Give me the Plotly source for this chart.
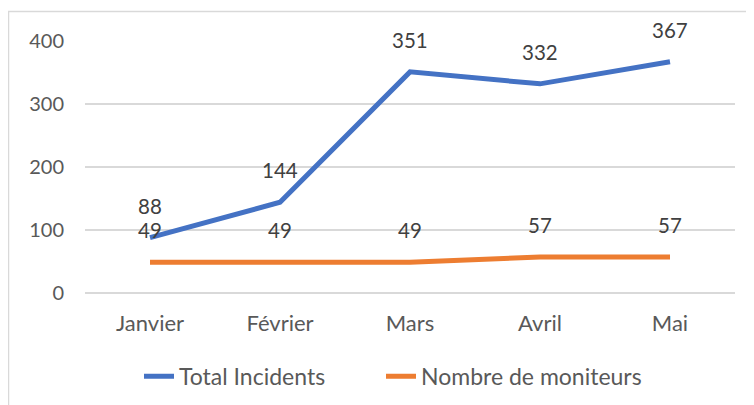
import plotly.graph_objects as go

months = ["Janvier", "Février", "Mars", "Avril", "Mai"]
total_incidents = [88, 144, 351, 332, 367]
nombre_moniteurs = [49, 49, 49, 57, 57]
y_ticks = [0, 100, 200, 300, 400]

BLUE = "#4472C4"
ORANGE = "#ED7D31"
FONT = "Lato"

fig = go.Figure()
fig.add_trace(go.Scatter(x=months, y=total_incidents, mode="lines", name="Total Incidents",
                         line=dict(color=BLUE, width=5), legend="legend"))
fig.add_trace(go.Scatter(x=months, y=nombre_moniteurs, mode="lines", name="Nombre de moniteurs",
                         line=dict(color=ORANGE, width=5), legend="legend2"))

annotations = []
for series in (total_incidents, nombre_moniteurs):
    for m, v in zip(months, series):
        annotations.append(dict(x=m, y=v, text=str(v), showarrow=False, yshift=32,
                                yanchor="middle", font=dict(family=FONT, size=20.5, color="#404040")))

legend_font = dict(family=FONT, size=23, color="#595959")

fig.update_layout(
    width=746, height=397,
    margin=dict(l=77, r=19, t=33, b=112, autoexpand=False),
    paper_bgcolor="white", plot_bgcolor="white",
    font=dict(family=FONT, size=20, color="#595959"),
    showlegend=True,
    legend=dict(orientation="h", xref="container", yref="container", x=0.1756, xanchor="left",
                y=0.0725, yanchor="middle", font=legend_font, bgcolor="rgba(0,0,0,0)"),
    legend2=dict(orientation="h", xref="container", yref="container", x=0.500, xanchor="left",
                 y=0.0725, yanchor="middle", font=legend_font, bgcolor="rgba(0,0,0,0)"),
    xaxis=dict(showgrid=False, showline=False, ticks="", ticklabelstandoff=15,
               range=[-0.5, 4.5], tickfont=dict(size=22), automargin=False),
    yaxis=dict(range=[0, 400], tickvals=y_ticks, showgrid=True, gridcolor="#D9D9D9",
               gridwidth=1.5, zeroline=True, zerolinecolor="#D9D9D9", zerolinewidth=1.5,
               showline=False, ticks="", ticklabelstandoff=20, automargin=False),
    annotations=annotations,
    shapes=[dict(type="rect", xref="paper", yref="paper", x0=-0.1177, y0=-0.6,
                 x1=1.2, y1=1.117, line=dict(color="#D9D9D9", width=1.5), layer="below")],
)

fig.write_html("out.html")
